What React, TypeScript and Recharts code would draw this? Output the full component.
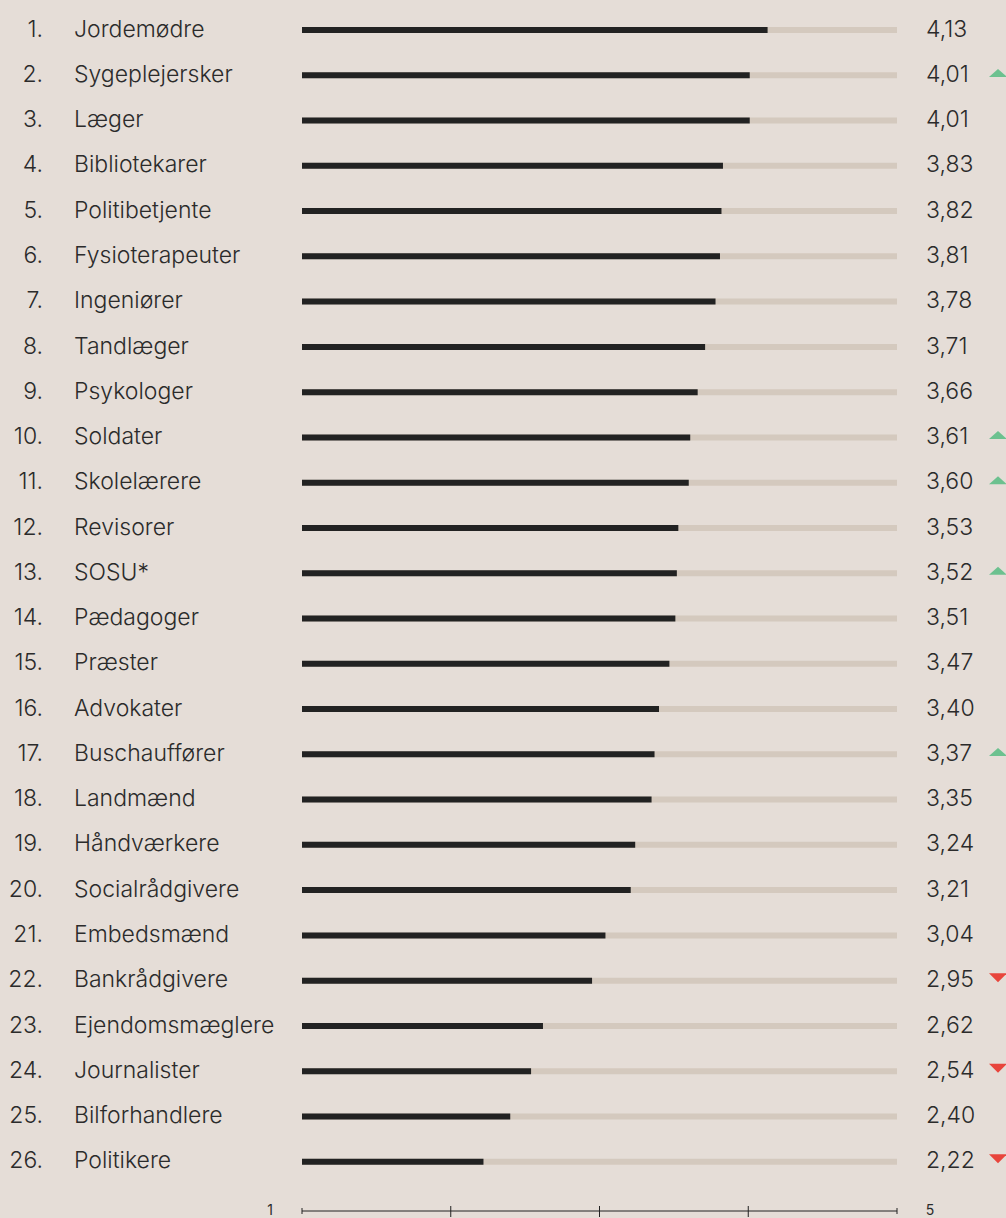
import { BarChart, Bar, XAxis, YAxis } from 'recharts';

// Tillid til faggrupper, gennemsnit på skala 1-5
const names = [
  'Jordemødre', 'Sygeplejersker', 'Læger', 'Bibliotekarer', 'Politibetjente',
  'Fysioterapeuter', 'Ingeniører', 'Tandlæger', 'Psykologer', 'Soldater',
  'Skolelærere', 'Revisorer', 'SOSU*', 'Pædagoger', 'Præster', 'Advokater',
  'Buschauffører', 'Landmænd', 'Håndværkere', 'Socialrådgivere', 'Embedsmænd',
  'Bankrådgivere', 'Ejendomsmæglere', 'Journalister', 'Bilforhandlere', 'Politikere',
];

const values = [
  4.13, 4.01, 4.01, 3.83, 3.82, 3.81, 3.78, 3.71, 3.66, 3.61, 3.6, 3.53, 3.52,
  3.51, 3.47, 3.4, 3.37, 3.35, 3.24, 3.21, 3.04, 2.95, 2.62, 2.54, 2.4, 2.22,
];

// 'up' = steget siden sidst, 'down' = faldet
const trends = [
  '', 'up', '', '', '', '', '', '', '', 'up', 'up', '', 'up', '', '', '',
  'up', '', '', '', '', 'down', '', 'down', '', 'down',
];

const axisTicks = [1, 2, 3, 4, 5];

const BG = '#e5ddd7';
const TRACK = '#d4c9be';
const DARK = '#222222';
const TEXT = '#2b2b2b';
const GREEN = '#6cc18f';
const RED = '#e8453c';
const FONT = 'Inter, "Noto Sans", sans-serif';

const data = names.map((name, i) => ({
  name,
  rank: i + 1,
  value: values[i],
  trend: trends[i],
}));

function LeftTick(props: any) {
  const { y, payload } = props;
  const i = payload.index;
  return (
    <g fontFamily={FONT} fontSize={23} fontWeight={300} fill={TEXT}>
      <text x={43} y={y} dy={7} textAnchor="end">
        {`${i + 1}.`}
      </text>
      <text x={74} y={y} dy={7} textAnchor="start">
        {payload.value}
      </text>
    </g>
  );
}

function RightTick(props: any) {
  const { y, payload } = props;
  const i = payload.index;
  const label = values[i].toFixed(2).replace('.', ',');
  const t = trends[i];
  return (
    <g>
      <text x={926} y={y} dy={7} textAnchor="start" fontSize={23} fill={TEXT} fontFamily={FONT} fontWeight={300}>
        {label}
      </text>
      {t === 'up' && <path d={`M989,${y + 2} L998,${y - 6} L1007,${y + 2} Z`} fill={GREEN} />}
      {t === 'down' && <path d={`M989,${y - 7} L998,${y + 2} L1007,${y - 7} Z`} fill={RED} />}
    </g>
  );
}

function BottomTick(props: any) {
  const { x, y, payload } = props;
  const v = payload.value;
  const end = v === 1 || v === 5;
  return (
    <g>
      <line x1={x} x2={x} y1={end ? y - 3 : y - 5} y2={end ? y + 3 : y + 6} stroke={DARK} strokeWidth={1} />
      {v === 1 && (
        <text x={x - 32} y={y} dy={4} textAnchor="middle" fontSize={14} fill={TEXT} fontFamily={FONT}>
          1
        </text>
      )}
      {v === 5 && (
        <text x={x + 33} y={y} dy={4} textAnchor="middle" fontSize={14} fill={TEXT} fontFamily={FONT}>
          5
        </text>
      )}
    </g>
  );
}

export default function App() {
  return (
    <div style={{ position: 'absolute', left: 0, top: 0, width: 1006, height: 1218, background: BG }}>
      <BarChart
        width={1006}
        height={1218}
        data={data}
        layout="vertical"
        margin={{ top: 0, right: 0, bottom: 0, left: 0 }}
      >
        <XAxis
          type="number"
          domain={[1, 5]}
          ticks={axisTicks}
          interval={0}
          height={7}
          tickSize={0}
          tickMargin={0}
          tickLine={false}
          axisLine={{ stroke: DARK, strokeWidth: 1 }}
          tick={<BottomTick />}
        />
        <YAxis
          yAxisId="left"
          type="category"
          dataKey="name"
          width={302}
          padding={{ top: 7, bottom: 27 }}
          axisLine={false}
          tickLine={false}
          interval={0}
          tick={<LeftTick />}
        />
        <YAxis
          yAxisId="right"
          orientation="right"
          type="category"
          dataKey="name"
          width={109}
          padding={{ top: 7, bottom: 27 }}
          axisLine={false}
          tickLine={false}
          interval={0}
          tick={<RightTick />}
        />
        <Bar
          yAxisId="left"
          dataKey="value"
          fill={DARK}
          barSize={6}
          background={{ fill: TRACK }}
          isAnimationActive={false}
        />
      </BarChart>
    </div>
  );
}
